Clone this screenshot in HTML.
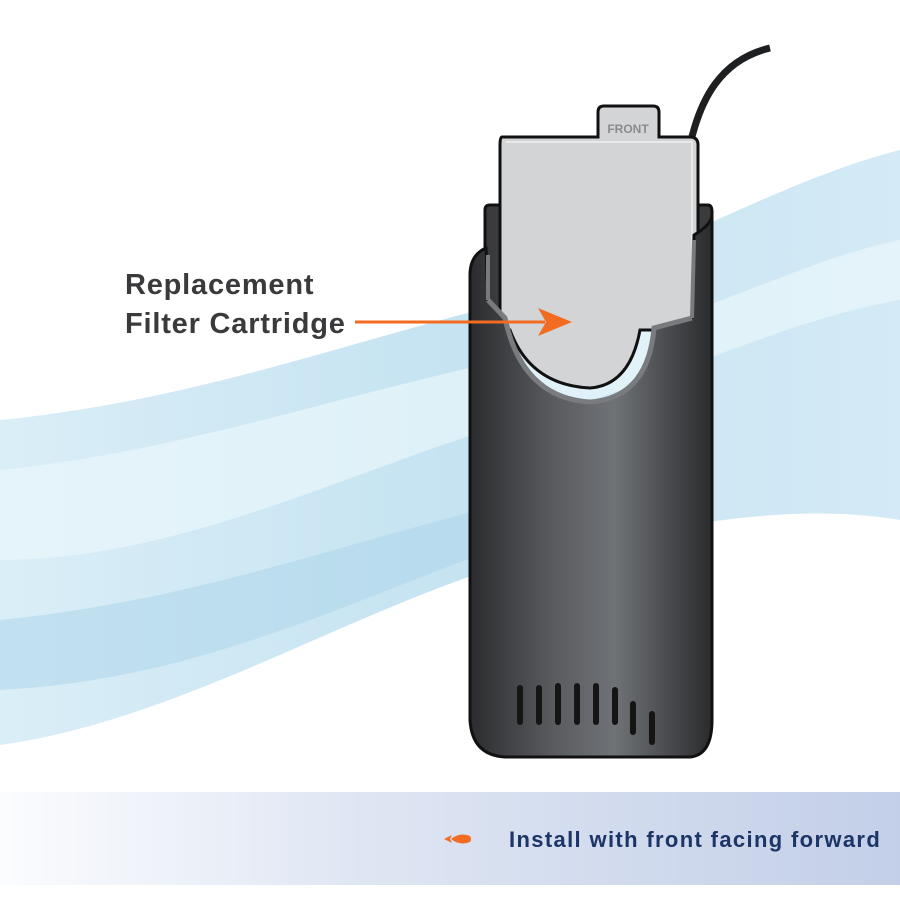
<!DOCTYPE html>
<html><head><style>
html,body{margin:0;padding:0;background:#fff;width:900px;height:900px;overflow:hidden}
svg{display:block}
</style></head><body>
<svg width="900" height="900" viewBox="0 0 900 900" xmlns="http://www.w3.org/2000/svg">
<defs>
<linearGradient id="wat" x1="0" y1="0" x2="1" y2="0">
<stop offset="0" stop-color="#d6ecf6"/><stop offset="0.5" stop-color="#bfe0f0"/><stop offset="1" stop-color="#cfe8f5"/>
</linearGradient>
<linearGradient id="body" x1="0" y1="0" x2="1" y2="0">
<stop offset="0" stop-color="#2b2c2e"/><stop offset="0.35" stop-color="#5a5c60"/><stop offset="0.6" stop-color="#6f7276"/><stop offset="1" stop-color="#2a2b2d"/>
</linearGradient>
<linearGradient id="ban" x1="0" y1="0" x2="1" y2="0">
<stop offset="0" stop-color="#fbfcfe"/><stop offset="0.4" stop-color="#dfe6f3"/><stop offset="1" stop-color="#c3cfe8"/>
</linearGradient>
</defs>
<rect width="900" height="900" fill="#fff"/>
<path d="M0 420 C200 400 350 340 520 300 C650 260 780 180 900 150 L900 520 C780 500 650 530 520 560 C350 610 180 720 0 745 Z" fill="url(#wat)" opacity="0.9"/>
<path d="M0 470 C200 450 380 380 560 350 C700 320 800 260 900 240 L900 300 C780 320 650 390 520 420 C350 470 180 560 0 560 Z" fill="#eaf6fb" opacity="0.7"/>
<path d="M0 620 C200 600 350 540 520 500 L520 540 C350 600 200 680 0 690 Z" fill="#a9d4ea" opacity="0.5"/>
<!-- cable -->
<path d="M690 145 C700 100 720 60 770 48" stroke="#1e1f21" stroke-width="7" fill="none"/>
<!-- back side tabs -->
<path d="M485 210 Q485 205 490 205 L500 205 L500 320 L485 320 Z" fill="#3a3b3d" stroke="#111" stroke-width="3"/>
<path d="M698 205 L708 205 Q712 205 712 212 L712 320 L698 320 Z" fill="#3a3b3d" stroke="#111" stroke-width="3"/>
<!-- cartridge -->
<path d="M502 137 L598 137 L598 112 Q598 106 604 106 L653 106 Q659 106 659 112 L659 137 L690 137 Q698 137 698 145 L698 330 L640 330 Q630 385 590 388 Q530 385 510 330 L500 330 L500 145 Q500 137 502 137 Z" fill="#d3d4d6" stroke="#111" stroke-width="3"/>
<path d="M506 142 L692 142 L692 330" fill="none" stroke="#f0f0f1" stroke-width="1.5"/>
<text x="628" y="133" font-family="Liberation Sans,sans-serif" font-weight="bold" font-size="12" fill="#8a8b8d" text-anchor="middle">FRONT</text>
<!-- housing front body -->
<path d="M470 275 Q470 255 486 248 L488 300 L505 318 Q522 398 590 402 Q648 398 654 328 L692 318 L694 235 Q711 225 712 215 L712 720 Q712 755 690 757 L505 757 Q472 755 470 720 Z" fill="url(#body)" stroke="#111" stroke-width="3"/>
<path d="M488 300 L505 318 Q522 398 590 402 Q648 398 654 328 L692 318" fill="none" stroke="#7a7b7e" stroke-width="5"/>
<path d="M488 300 L488 255 M692 318 L694 240" stroke="#7a7b7e" stroke-width="4"/>
<!-- vents -->
<g stroke="#151515" stroke-width="6" stroke-linecap="round">
<line x1="520" y1="688" x2="520" y2="722"/><line x1="539" y1="688" x2="539" y2="722"/><line x1="558" y1="686" x2="558" y2="722"/><line x1="577" y1="686" x2="577" y2="722"/><line x1="596" y1="686" x2="596" y2="722"/><line x1="615" y1="690" x2="615" y2="722"/><line x1="633" y1="704" x2="633" y2="732"/><line x1="652" y1="714" x2="652" y2="742"/>
</g>
<!-- label -->
<text x="125" y="294" font-family="Liberation Sans,sans-serif" font-weight="bold" font-size="29" letter-spacing="0.8" fill="#3a3a3c">Replacement</text>
<text x="125" y="333" font-family="Liberation Sans,sans-serif" font-weight="bold" font-size="29" letter-spacing="0.8" fill="#3a3a3c">Filter Cartridge</text>
<line x1="355" y1="322" x2="545" y2="322" stroke="#f26b21" stroke-width="3"/>
<path d="M572 322 L538 308 L546 322 L538 336 Z" fill="#f26b21"/>
<!-- banner -->
<rect x="0" y="792" width="900" height="93" fill="url(#ban)"/>
<path d="M444 839 L452 835 L450 839 L452 843 Z M451 839 Q460 832 470 836 Q472 839 470 842 Q460 846 451 839 Z" fill="#f26b21"/>
<text x="509" y="847" font-family="Liberation Sans,sans-serif" font-weight="bold" font-size="22" letter-spacing="1.35" fill="#1c3466">Install with front facing forward</text>
</svg>
</body></html>
